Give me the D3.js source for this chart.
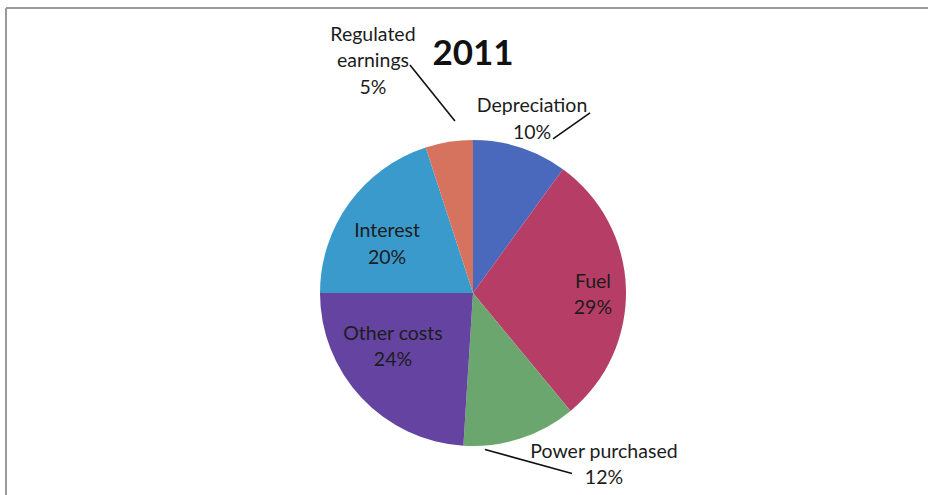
<!DOCTYPE html>
<html>
<head>
<meta charset="utf-8">
<script src="https://cdn.jsdelivr.net/npm/d3@7"></script>
<style>
  html, body { margin: 0; padding: 0; background: #fff; }
  svg { display: block; }
</style>
</head>
<body>
<svg id="chart" width="928" height="495"></svg>
<script>
// Cost breakdown, 2011 (percent of total)
const title = "2011";
const categories = ["Depreciation", "Fuel", "Power purchased", "Other costs", "Interest", "Regulated earnings"];
const shares = [10, 29, 12, 24, 20, 5];
const labelLines = [
  ["Depreciation", "10%"],
  ["Fuel", "29%"],
  ["Power purchased", "12%"],
  ["Other costs", "24%"],
  ["Interest", "20%"],
  ["Regulated", "earnings", "5%"]
];
const colors = ["#4a68bc", "#b63e66", "#6aa66e", "#6444a0", "#3a9acb", "#d6735f"];

const W = 928, H = 495;
const cx = 473, cy = 293, R = 153;
const font = "Lato, 'Open Sans', sans-serif";

// label placement, in pie-radius units relative to the centre:
// [x of text centre, baseline of first line]
const labelPlace = [
  [0.386, -1.183],
  [0.784, -0.033],
  [0.856, 1.078],
  [-0.523, 0.307],
  [-0.562, -0.366],
  [-0.654, -1.650]
];
// leader lines (same units): [from, to] or null
const leaders = [
  [[0.523, -1.007], [0.765, -1.177]],
  null,
  [[0.078, 1.023], [0.647, 1.180]],
  null,
  null,
  [[-0.412, -1.490], [-0.118, -1.124]]
];
const lineGap = 26.5;

const svg = d3.select("#chart");

// frame edges
svg.append("line").attr("x1", 6).attr("y1", 8).attr("x2", W).attr("y2", 8)
  .attr("stroke", "#9a9a9a").attr("stroke-width", 2);
svg.append("line").attr("x1", 6).attr("y1", 8).attr("x2", 6).attr("y2", H)
  .attr("stroke", "#9a9a9a").attr("stroke-width", 2);

const pie = d3.pie().sort(null).value(d => d)(shares);
const arc = d3.arc().innerRadius(0).outerRadius(R);

const g = svg.append("g").attr("transform", `translate(${cx},${cy})`);
g.selectAll("path.slice")
  .data(pie)
  .join("path")
  .attr("class", "slice")
  .attr("d", arc)
  .attr("fill", (d, i) => colors[i]);

// leader lines
g.selectAll("line.leader")
  .data(leaders.map((l, i) => ({ l, i })).filter(d => d.l))
  .join("line")
  .attr("class", "leader")
  .attr("x1", d => d.l[0][0] * R).attr("y1", d => d.l[0][1] * R)
  .attr("x2", d => d.l[1][0] * R).attr("y2", d => d.l[1][1] * R)
  .attr("stroke", "#111").attr("stroke-width", 1.6);

// data labels
const labels = g.selectAll("text.lbl")
  .data(categories.map((c, i) => ({ c, i })))
  .join("text")
  .attr("class", "lbl")
  .attr("text-anchor", "middle")
  .attr("font-family", font)
  .attr("font-size", 19.5)
  .attr("fill", "#1c1c1c")
  .attr("x", d => labelPlace[d.i][0] * R)
  .attr("y", d => labelPlace[d.i][1] * R);
labels.selectAll("tspan")
  .data(d => labelLines[d.i].map((t, k) => ({ t, k, x: labelPlace[d.i][0] * R })))
  .join("tspan")
  .attr("x", d => d.x)
  .attr("dy", d => d.k === 0 ? 0 : lineGap)
  .text(d => d.t);

// title
svg.append("text")
  .attr("x", 473).attr("y", 65)
  .attr("text-anchor", "middle")
  .attr("font-family", font)
  .attr("font-weight", "bold")
  .attr("font-size", 35)
  .attr("fill", "#111")
  .text(title);
</script>
</body>
</html>
